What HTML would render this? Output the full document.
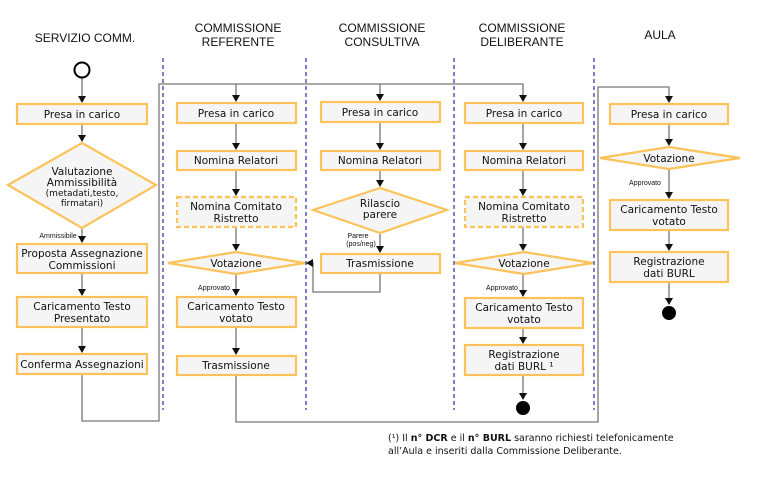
<!DOCTYPE html>
<html><head><meta charset="utf-8"><style>
body{margin:0;background:#fff}
svg text{font-family:"DejaVu Sans","Liberation Sans",sans-serif;font-size:10.5px;fill:#111;text-anchor:middle}
.h{font-family:"Liberation Sans",sans-serif;font-size:12px}
.s{font-family:"Liberation Sans",sans-serif;font-size:7px}
</style></head><body>
<svg width="769" height="482" xmlns="http://www.w3.org/2000/svg">
<defs><marker id="a" markerWidth="8" markerHeight="8" refX="6" refY="4" orient="auto" markerUnits="userSpaceOnUse"><path d="M0,0 L7,4 L0,8Z" fill="#111"/></marker></defs>
<rect width="769" height="482" fill="#fff"/>
<text class="h" x="85" y="42">SERVIZIO COMM.</text>
<text class="h" x="238" y="32">COMMISSIONE</text><text class="h" x="238" y="46">REFERENTE</text>
<text class="h" x="382" y="32">COMMISSIONE</text><text class="h" x="382" y="46">CONSULTIVA</text>
<text class="h" x="522" y="32">COMMISSIONE</text><text class="h" x="522" y="46">DELIBERANTE</text>
<text class="h" x="660" y="39">AULA</text>
<g stroke="#00008b" stroke-dasharray="4,3" stroke-width="1">
<line x1="163" y1="58" x2="163" y2="410"/><line x1="306" y1="58" x2="306" y2="410"/>
<line x1="454" y1="58" x2="454" y2="410"/><line x1="594" y1="58" x2="594" y2="410"/>
</g>
<g stroke="#777" fill="none" stroke-width="1.3">
<path d="M82,374 V421 H159 V84 H523 V101" marker-end="url(#a)"/>
<path d="M236,84 V101" marker-end="url(#a)"/>
<path d="M380,84 V100" marker-end="url(#a)"/>
<path d="M236,375 V422 H598 V87 H669 V102" marker-end="url(#a)"/>
<path d="M82,78 V102" marker-end="url(#a)"/>
<path d="M82,124 V141" marker-end="url(#a)"/>
<path d="M82,228 V242" marker-end="url(#a)"/>
<path d="M82,273 V295" marker-end="url(#a)"/>
<path d="M82,327 V352" marker-end="url(#a)"/>
<path d="M236,123 V149" marker-end="url(#a)"/>
<path d="M236,170 V195" marker-end="url(#a)"/>
<path d="M236,227 V250" marker-end="url(#a)"/>
<path d="M236,274 V295" marker-end="url(#a)"/>
<path d="M236,327 V354" marker-end="url(#a)"/>
<path d="M380,122 V149" marker-end="url(#a)"/>
<path d="M380,170 V186" marker-end="url(#a)"/>
<path d="M380,233 V252" marker-end="url(#a)"/>
<path d="M380,273 V292 H313 V263 H307" marker-end="url(#a)"/>
<path d="M523,123 V149" marker-end="url(#a)"/>
<path d="M523,170 V195" marker-end="url(#a)"/>
<path d="M523,227 V250" marker-end="url(#a)"/>
<path d="M523,274 V296" marker-end="url(#a)"/>
<path d="M523,328 V343" marker-end="url(#a)"/>
<path d="M523,375 V399" marker-end="url(#a)"/>
<path d="M669,124 V145" marker-end="url(#a)"/>
<path d="M669,169 V198" marker-end="url(#a)"/>
<path d="M669,230 V250" marker-end="url(#a)"/>
<path d="M669,282 V304" marker-end="url(#a)"/>
</g>
<g fill="#f5f5f5" stroke="#fdc35a" stroke-width="2.2">
<rect x="17" y="104" width="130" height="20"/>
<polygon points="82,143 156,185 82,228 8,185"/>
<rect x="17" y="244" width="130" height="29"/>
<rect x="17" y="297" width="130" height="30"/>
<rect x="17" y="354" width="130" height="20"/>
<rect x="177" y="103" width="119" height="20"/>
<rect x="177" y="151" width="119" height="19"/>
<rect x="177" y="197" width="119" height="30" stroke-dasharray="5,3"/>
<polygon points="236,252 305,263 236,274 168,263"/>
<rect x="177" y="297" width="119" height="30"/>
<rect x="177" y="356" width="119" height="19"/>
<rect x="321" y="102" width="119" height="20"/>
<rect x="321" y="151" width="119" height="19"/>
<polygon points="380,188 447,210 380,233 313,210"/>
<rect x="321" y="254" width="119" height="19"/>
<rect x="465" y="103" width="118" height="20"/>
<rect x="465" y="151" width="118" height="19"/>
<rect x="465" y="197" width="118" height="30" stroke-dasharray="5,3"/>
<polygon points="524,252 593,263 524,274 455,263"/>
<rect x="465" y="298" width="118" height="30"/>
<rect x="465" y="345" width="118" height="30"/>
<rect x="610" y="104" width="118" height="20"/>
<polygon points="669,147 740,158 669,169 600,158"/>
<rect x="610" y="200" width="118" height="30"/>
<rect x="610" y="252" width="118" height="30"/>
</g>
<circle cx="82" cy="70" r="7.5" fill="#fff" stroke="#000" stroke-width="2"/>
<circle cx="523" cy="408" r="7" fill="#000"/>
<circle cx="669" cy="313" r="7" fill="#000"/>
<text x="82" y="118">Presa in carico</text>
<text x="82" y="175">Valutazione</text><text x="82" y="186">Ammissibilità</text>
<text x="82" y="196" style="font-size:9px">(metadati,testo,</text><text x="82" y="206" style="font-size:9px">firmatari)</text>
<text class="s" x="58" y="238">Ammissibile</text>
<text x="82" y="257">Proposta Assegnazione</text><text x="82" y="269">Commissioni</text>
<text x="82" y="310">Caricamento Testo</text><text x="82" y="322">Presentato</text>
<text x="82" y="368">Conferma Assegnazioni</text>
<text x="236" y="117">Presa in carico</text>
<text x="236" y="164">Nomina Relatori</text>
<text x="236" y="210">Nomina Comitato</text><text x="236" y="222">Ristretto</text>
<text x="236" y="267">Votazione</text>
<text class="s" x="214" y="290">Approvato</text>
<text x="236" y="310">Caricamento Testo</text><text x="236" y="322">votato</text>
<text x="236" y="369">Trasmissione</text>
<text x="380" y="116">Presa in carico</text>
<text x="380" y="164">Nomina Relatori</text>
<text x="380" y="207">Rilascio</text><text x="380" y="218">parere</text>
<text class="s" x="358" y="238">Parere</text><text class="s" x="361" y="246">(pos/neg)</text>
<text x="380" y="267">Trasmissione</text>
<text x="524" y="117">Presa in carico</text>
<text x="524" y="164">Nomina Relatori</text>
<text x="524" y="210">Nomina Comitato</text><text x="524" y="222">Ristretto</text>
<text x="524" y="267">Votazione</text>
<text class="s" x="502" y="290">Approvato</text>
<text x="524" y="311">Caricamento Testo</text><text x="524" y="323">votato</text>
<text x="524" y="358">Registrazione</text><text x="524" y="370">dati BURL ¹</text>
<text x="669" y="118">Presa in carico</text>
<text x="669" y="162">Votazione</text>
<text class="s" x="645" y="185">Approvato</text>
<text x="669" y="213">Caricamento Testo</text><text x="669" y="225">votato</text>
<text x="669" y="265">Registrazione</text><text x="669" y="277">dati BURL</text>
<text x="388" y="441" style="text-anchor:start;font-size:9.5px">(¹) Il <tspan font-weight="bold">n° DCR</tspan> e il <tspan font-weight="bold">n° BURL</tspan> saranno richiesti telefonicamente</text>
<text x="388" y="454" style="text-anchor:start;font-size:9.5px">all’Aula e inseriti dalla Commissione Deliberante.</text>
</svg>
</body></html>
